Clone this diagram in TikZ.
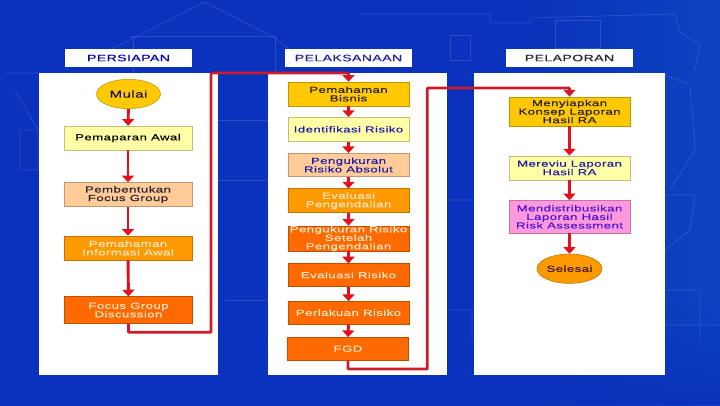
\documentclass[tikz,border=0pt]{standalone}
\usepackage{fontspec}
\setmainfont[FakeStretch=1.5,LetterSpace=5,FakeBold=.15]{Liberation Sans}
\usetikzlibrary{arrows.meta,shapes.geometric,fadings}
\definecolor{flowred}{HTML}{E4101C}
\definecolor{longred}{HTML}{CC1C2C}
\definecolor{darkink}{HTML}{2A2030}
\definecolor{blueink}{HTML}{1E1CA8}
\definecolor{violetink}{HTML}{4A14D0}
\definecolor{paleink}{HTML}{FFE8C8}
\definecolor{goldfill}{HTML}{FFC800}
\definecolor{palefill}{HTML}{FFFFA6}
\definecolor{peachfill}{HTML}{FFCC99}
\definecolor{orangefill}{HTML}{FF9900}
\definecolor{deepfill}{HTML}{FF6A00}
\definecolor{pinkfill}{HTML}{FF99DD}
\definecolor{bgedge}{HTML}{2A62F0}
\definecolor{bgleft}{HTML}{0C38D0}
\definecolor{bgmid}{HTML}{0A32BC}
\definecolor{bgright}{HTML}{1050C4}
\definecolor{bgfar}{HTML}{2070DC}
\pgfdeclarehorizontalshading{bluebg}{100bp}{color(0bp)=(bgedge);
 color(3bp)=(bgleft); color(15bp)=(bgmid);
 color(62bp)=(bgmid); color(85bp)=(bgright);
 color(97bp)=(bgfar); color(100bp)=(bgfar)}
\tikzset{
 headbox/.style={fill=white,minimum width=95pt,minimum height=13pt,inner sep=0pt,font=\fontsize{7}{8}\selectfont},
 panelbox/.style={fill=white,minimum width=134pt,minimum height=226.5pt,inner sep=0pt},
 stepbox/.style={draw=#1!75!black,fill=#1,line width=.4pt,minimum width=90.5pt,inner sep=0pt,align=center,
  font=\fontsize{6.6}{6.4}\selectfont},
 endbox/.style={draw=#1!75!black,fill=#1,line width=.4pt,ellipse,minimum width=48pt,minimum height=22pt,inner sep=0pt,
  font=\fontsize{6.6}{6.4}\selectfont},
 flow/.style={draw=flowred,line width=2.2pt,-{Triangle[length=5pt,width=9pt]}},
 longflow/.style={draw=longred,line width=2pt,rounded corners=.5pt,-{Triangle[length=5pt,width=9pt,fill=flowred]}},
 sketch/.style={draw=white,opacity=.13,line width=.5pt},
}
\begin{document}
\begin{tikzpicture}[x=.75pt,y=-.75pt]
\useasboundingbox (0,0) rectangle (720,405);
\shade[shading=bluebg] (0,0) rectangle (720,405);
\fill[bgmid,path fading=north] (430,300) rectangle (720,405);
% faint plan behind the panels
\draw[sketch] (110,50)--(205,2)--(275,38)--(290,50);
\draw[sketch] (130,36)--(275,36) (133,36)--(133,73) (275,36)--(275,73);
\draw[sketch] (360,14)--(490,14)--(490,23)--(530,23)--(530,18)--(675,14)--(680,32)--(700,45)--(695,70);
\draw[sketch] (450,35)--(470,35)--(470,60)--(450,60)--cycle (555,20)--(600,20)--(600,48)--(555,48)--cycle;
\draw[sketch] (5,73)--(38,73) (15,90)--(38,130) (20,130)--(38,130)--(38,170)--(20,170)--cycle;
\draw[sketch] (218,180)--(268,180) (218,120)--(268,120) (225,300)--(268,300);
\draw[sketch] (665,195)--(695,195)--(690,230)--(665,250) (665,325)--(720,325) (665,290)--(700,290)--(700,340);
\draw[sketch] (665,75)--(690,85)--(695,150)--(670,190) (448,200)--(472,200) (450,310)--(472,310)--(472,340);
% panels
\node[panelbox] (panelA) at (128.5,224) {};
\node[panelbox] (panelB) at (357.5,224) {};
\node[panelbox,minimum width=143.5pt] (panelC) at (569.5,224) {};
\node[headbox,text=blue!70!black] (headA) at (128.5,58) {PERSIAPAN};
\node[headbox,text=blueink] (headB) at (348.5,58) {PELAKSANAAN};
\node[headbox,text=darkink] (headC) at (569.5,58) {PELAPORAN};
% first column
\node[endbox=goldfill,text=blueink!60!black] (mulai) at (128.5,94) {\fontsize{7.5}{8}\selectfont Mulai};
\node[stepbox=palefill,minimum height=18pt,minimum width=96pt,text=black] (paparan) at (128,138) {Pemaparan Awal};
\node[stepbox=peachfill,minimum height=18pt,minimum width=96pt,text=darkink] (bentuk) at (128,194.5) {Pembentukan\\Focus Group};
\node[stepbox=orangefill,minimum height=18pt,minimum width=96pt,text=paleink] (paham) at (128,248) {Pemahaman\\Informasi Awal};
\node[stepbox=deepfill,minimum height=20pt,minimum width=96pt,text=paleink] (diskusi) at (128.5,310) {Focus Group\\Discussion};
% second column
\node[stepbox=goldfill,minimum height=18pt,text=darkink] (bisnis) at (348.5,94) {Pemahaman\\Bisnis};
\node[stepbox=palefill,minimum height=18pt,text=blueink] (identifikasi) at (348.5,129.3) {Identifikasi Risiko};
\node[stepbox=peachfill,minimum height=17.5pt,text=blueink] (absolut) at (348.5,165) {Pengukuran\\Risiko Absolut};
\node[stepbox=orangefill,minimum height=18pt,text=paleink] (kendali) at (348.5,200.7) {Evaluasi\\Pengendalian};
\node[stepbox=deepfill,minimum height=17.5pt,text=paleink] (setelah) at (348.5,238.5) {Pengukuran Risiko\\Setelah\\Pengendalian};
\node[stepbox=deepfill,minimum height=17pt,text=paleink] (evaluasi) at (348.5,275) {Evaluasi Risiko};
\node[stepbox=deepfill,minimum height=17pt,text=paleink] (perlakuan) at (348.5,312.7) {Perlakuan Risiko};
\node[stepbox=deepfill,minimum height=17pt,text=paleink] (fgd) at (348,348.7) {FGD};
% third column
\node[stepbox=goldfill,minimum height=22pt,text=darkink] (konsep) at (569.5,111.5) {Menyiapkan\\Konsep Laporan\\Hasil RA};
\node[stepbox=palefill,minimum height=18pt,text=blueink] (mereviu) at (569.5,167.8) {Mereviu Laporan\\Hasil RA};
\node[stepbox=pinkfill,minimum height=24.5pt,text=violetink] (distribusi) at (569.5,216.8) {Mendistribusikan\\Laporan Hasil\\Risk Assessment};
\node[endbox=orangefill,text=darkink!70!violet] (selesai) at (569.5,268.7) {Selesai};
% connectors
\draw[flow] (mulai)--(paparan);
\draw[flow] (paparan)--(bentuk);
\draw[flow] (bentuk)--(paham);
\draw[flow] (paham)--(diskusi);
\draw[flow] (bisnis)--(identifikasi);
\draw[flow] (identifikasi)--(absolut);
\draw[flow] (absolut)--(kendali);
\draw[flow] (kendali)--(setelah);
\draw[flow] (setelah)--(evaluasi);
\draw[flow] (evaluasi)--(perlakuan);
\draw[flow] (perlakuan)--(fgd);
\draw[flow] (konsep)--(mereviu);
\draw[flow] (mereviu)--(distribusi);
\draw[flow] (distribusi)--(selesai);
\coordinate (turnA) at (211,332.3);
\coordinate (turnB) at (211,73);
\coordinate (turnC) at (427.3,369);
\coordinate (turnD) at (427.3,88);
\draw[longflow] (diskusi.south) |- (turnA) -- (turnB) -| (bisnis.north);
\draw[longflow] (fgd.south) |- (turnC) -- (turnD) -| (konsep.north);
\end{tikzpicture}
\end{document}
